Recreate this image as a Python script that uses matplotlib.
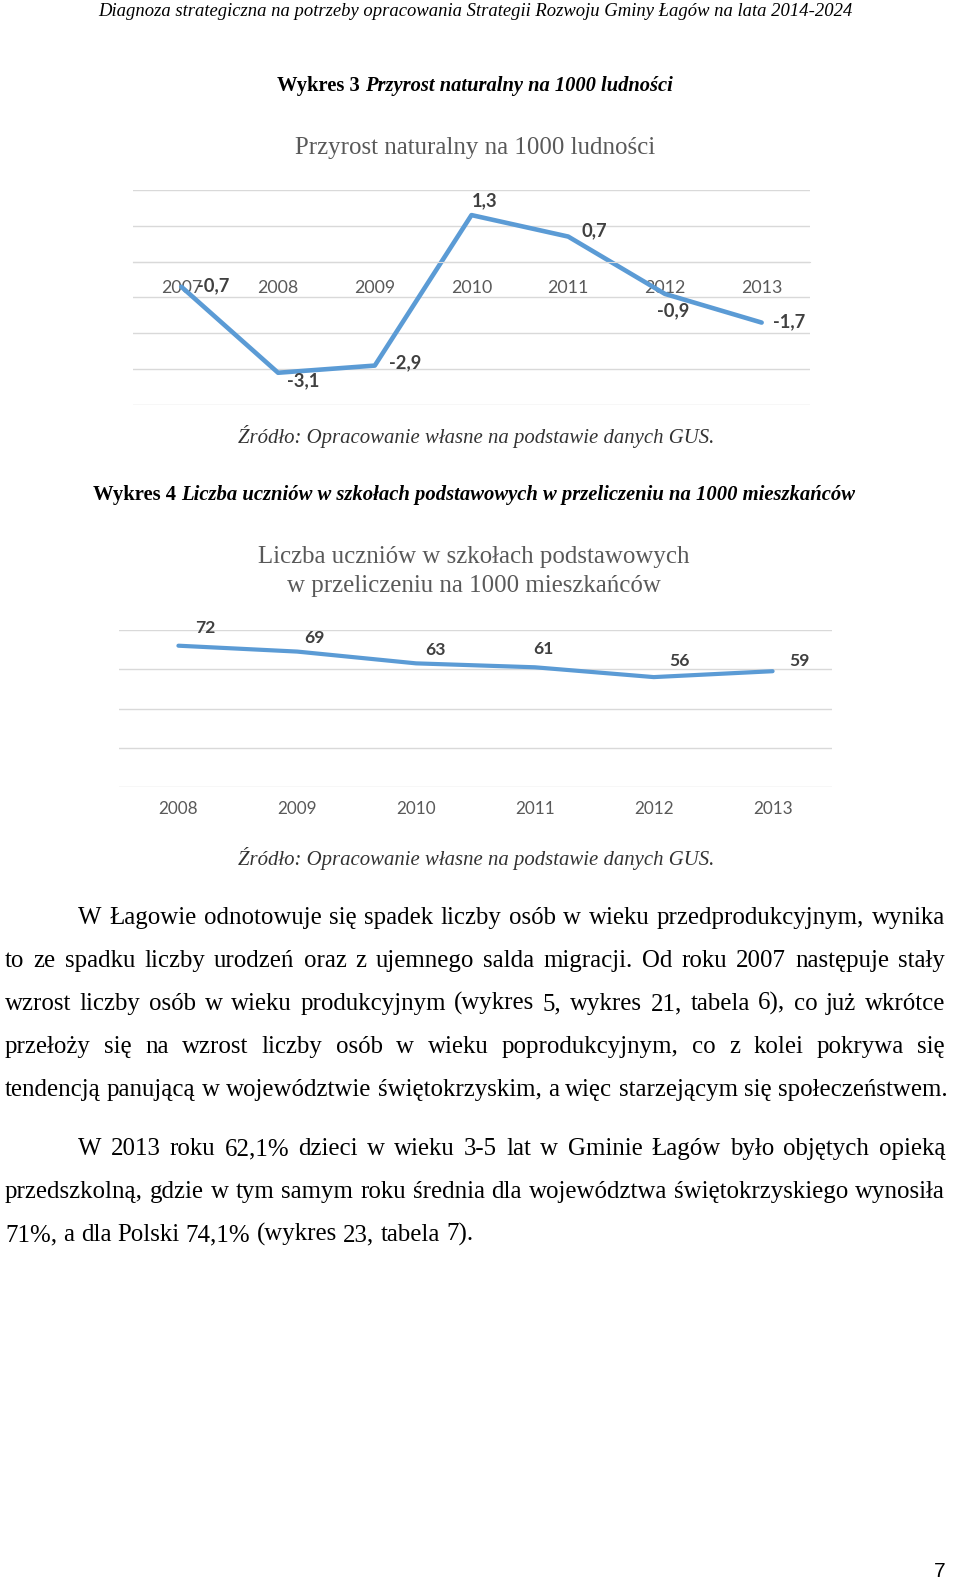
import matplotlib
matplotlib.use('Agg')
import matplotlib.pyplot as plt
import numpy as np

W, H = 960, 1585
SERIF = 'Liberation Serif'
SANS = ['Lato', 'DejaVu Sans']
BLUE = '#5b9bd5'
GRID = '#d9d9d9'
LABEL = '#404040'
TICK = '#595959'

# --- data, chart 1 (Wykres 3)
years1 = ['2007', '2008', '2009', '2010', '2011', '2012', '2013']
growth = [-0.7, -3.1, -2.9, 1.3, 0.7, -0.9, -1.7]

# --- data, chart 2 (Wykres 4)
years2 = ['2008', '2009', '2010', '2011', '2012', '2013']
pupils = [72, 69, 63, 61, 56, 59]

# --- texts
header = 'Diagnoza strategiczna na potrzeby opracowania Strategii Rozwoju Gminy Łagów na lata 2014-2024'
cap3 = ('Wykres 3', 'Przyrost naturalny na 1000 ludności')
cap4 = ('Wykres 4', 'Liczba uczniów w szkołach podstawowych w przeliczeniu na 1000 mieszkańców')
title1 = 'Przyrost naturalny na 1000 ludności'
title2 = ['Liczba uczniów w szkołach podstawowych', 'w przeliczeniu na 1000 mieszkańców']
source = 'Źródło: Opracowanie własne na podstawie danych GUS.'
para1 = [
    'W Łagowie odnotowuje się spadek liczby osób w wieku przedprodukcyjnym, wynika',
    'to ze spadku liczby urodzeń oraz z ujemnego salda migracji. Od roku 2007 następuje stały',
    'wzrost liczby osób w wieku produkcyjnym (wykres 5, wykres 21, tabela 6), co już wkrótce',
    'przełoży się na wzrost liczby osób w wieku poprodukcyjnym, co z kolei pokrywa się',
    'tendencją panującą w województwie świętokrzyskim, a więc starzejącym się społeczeństwem.',
]
para2 = [
    'W 2013 roku 62,1% dzieci w wieku 3-5 lat w Gminie Łagów było objętych opieką',
    'przedszkolną, gdzie w tym samym roku średnia dla województwa świętokrzyskiego wynosiła',
    '71%, a dla Polski 74,1% (wykres 23, tabela 7).',
]
page_no = '7'

fig = plt.figure(figsize=(W / 100, H / 100), dpi=100)
rend = fig.canvas.get_renderer()


def fx(x):
    return x / W


def fy(y):
    return 1 - y / H


def rect(l, t, r, b):
    return [l / W, 1 - b / H, (r - l) / W, (b - t) / H]


def width(s, **kw):
    t = fig.text(0, 0, s, **kw)
    w = t.get_window_extent(rend).width
    t.remove()
    return w


def fit(s, target, **kw):
    return 10 * target / width(s, fontsize=10, **kw)


def space(**kw):
    return width('a a', **kw) - width('aa', **kw)


def line(s, y, left, right, justify, **kw):
    # one line of body text, justified word by word
    words = s.split()
    ws = [width(w, **kw) for w in words]
    if justify and len(words) > 1:
        gap = (right - left - sum(ws)) / (len(words) - 1)
    else:
        gap = space(**kw)
    x = left
    for w, wd in zip(words, ws):
        fig.text(fx(x), fy(y), w, ha='left', va='baseline', **kw)
        x += wd + gap


def caption(parts, cx, y, target):
    k1 = dict(family=SERIF, weight='bold')
    k2 = dict(family=SERIF, weight='bold', style='italic')
    tot = width(parts[0], fontsize=10, **k1) + space(fontsize=10, **k1) + width(parts[1], fontsize=10, **k2)
    fs = 10 * target / tot
    w1 = width(parts[0], fontsize=fs, **k1)
    sp = space(fontsize=fs, **k1)
    w2 = width(parts[1], fontsize=fs, **k2)
    x0 = cx - (w1 + sp + w2) / 2
    fig.text(fx(x0), fy(y), parts[0], ha='left', va='baseline', fontsize=fs, **k1)
    fig.text(fx(x0 + w1 + sp), fy(y), parts[1], ha='left', va='baseline', fontsize=fs, **k2)


# header
hs = fit(header, 756, family=SERIF, style='italic')
fig.text(fx(475), fy(16), header, ha='center', va='baseline', family=SERIF, style='italic', fontsize=hs)

caption(cap3, 475, 91, 396)
caption(cap4, 474, 500, 763)

# chart titles
t1 = fit(title1, 360, family=SERIF)
fig.text(fx(475), fy(154), title1, ha='center', va='baseline', family=SERIF, fontsize=t1, color=TICK)
t2 = fit(title2[0], 431, family=SERIF)
fig.text(fx(474), fy(563), title2[0], ha='center', va='baseline', family=SERIF, fontsize=t2, color=TICK)
fig.text(fx(474), fy(592), title2[1], ha='center', va='baseline', family=SERIF, fontsize=t2, color=TICK)

# sources
ss = fit(source, 478, family=SERIF, style='italic')
for y in (443, 865):
    fig.text(fx(476), fy(y), source, ha='center', va='baseline', family=SERIF,
             style='italic', fontsize=ss, color='#333333')

# chart 1
ax1 = fig.add_axes(rect(133, 190, 810, 405))
x1 = np.arange(len(years1))
ax1.plot(x1, growth, color=BLUE, lw=3.3, solid_capstyle='round', solid_joinstyle='round')
ax1.set_xlim(-0.5, len(years1) - 0.5)
ax1.set_ylim(-4, 2)
ax1.set_yticks(range(-4, 3))
ax1.yaxis.grid(True, color=GRID, lw=1.0)
ax1.set_axisbelow(True)
for s in ('top', 'left', 'right'):
    ax1.spines[s].set_visible(False)
ax1.spines['bottom'].set_position(('data', 0))
ax1.spines['bottom'].set_color(GRID)
ax1.set_xticks(x1, years1)
ax1.tick_params(axis='x', length=0, pad=13, labelsize=12.8, labelcolor=TICK)
ax1.tick_params(axis='y', length=0, labelleft=False)
for lab in ax1.get_xticklabels():
    lab.set_family(SANS)
off1 = [(32, -1), (25, 8), (30, -3), (13, -14), (26, -6), (8, 17), (27, -1)]
for xi, v, (dx, dy) in zip(x1, growth, off1):
    ax1.annotate(f'{v:.1f}'.replace('.', ','), (xi, v), xytext=(dx, -dy), textcoords='offset pixels',
                 ha='center', va='center', family=SANS, weight='bold', fontsize=13.2, color=LABEL)

# chart 2
ax2 = fig.add_axes(rect(119, 630, 832, 787))
x2 = np.arange(len(years2))
ax2.plot(x2, pupils, color=BLUE, lw=3.0, solid_capstyle='round', solid_joinstyle='round')
ax2.set_xlim(-0.5, len(years2) - 0.5)
ax2.set_ylim(0, 80)
ax2.set_yticks(range(0, 81, 20))
ax2.yaxis.grid(True, color=GRID, lw=1.0)
ax2.set_axisbelow(True)
for s in ax2.spines.values():
    s.set_visible(False)
ax2.set_xticks(x2, years2)
ax2.tick_params(axis='x', length=0, pad=10, labelsize=12.3, labelcolor=TICK)
ax2.tick_params(axis='y', length=0, labelleft=False)
for lab in ax2.get_xticklabels():
    lab.set_family(SANS)
off2 = [(27, -18), (17, -14), (19, -13), (9, -18), (26, -16), (27, -10)]
for xi, v, (dx, dy) in zip(x2, pupils, off2):
    ax2.annotate(str(v), (xi, v), xytext=(dx, -dy), textcoords='offset pixels',
                 ha='center', va='center', family=SANS, weight='bold', fontsize=12.6, color=LABEL)

# body text
bs = fit(para1[-1], 940, family=SERIF)
base1 = [924, 967, 1010, 1053, 1096]
for i, (s, y) in enumerate(zip(para1, base1)):
    line(s, y, 78 if i == 0 else 5, 945, i < len(para1) - 1, family=SERIF, fontsize=bs)
base2 = [1155, 1198, 1241]
for i, (s, y) in enumerate(zip(para2, base2)):
    line(s, y, 78 if i == 0 else 5, 945, i < len(para2) - 1, family=SERIF, fontsize=bs)

fig.text(fx(940), fy(1577), page_no, ha='center', va='baseline', family='Liberation Sans', fontsize=15)

fig.savefig('out.png', dpi=100)
